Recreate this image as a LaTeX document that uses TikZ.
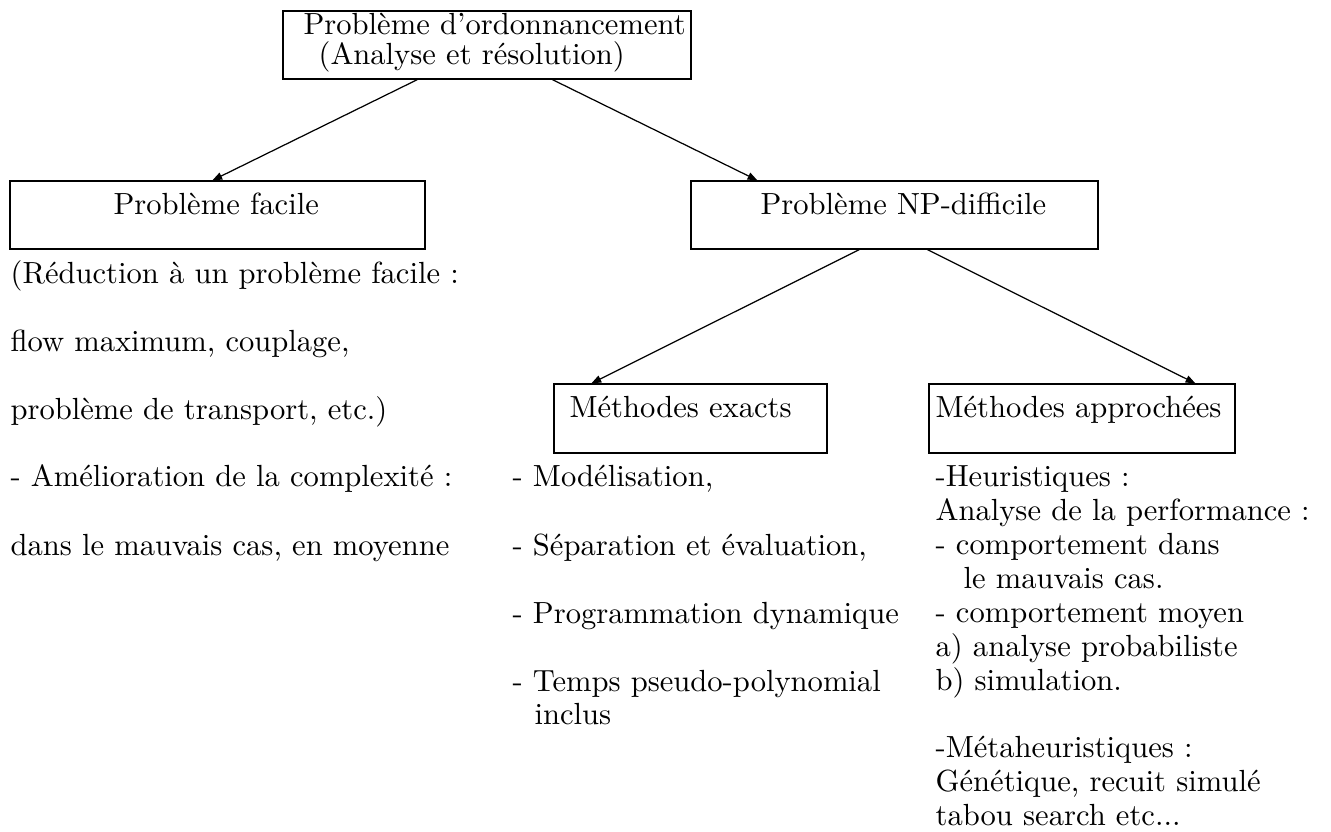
\documentclass[tikz,border=0pt]{standalone}
\usepackage{fontspec}
\usetikzlibrary{arrows.meta,fit,calc}
\tikzset{
  box/.style={draw, line width=0.4pt, inner sep=0pt},
  txt/.style={anchor=base west, inner sep=0pt, font=\fontsize{10}{12}\selectfont},
  arr/.style={line width=0.4pt, -{Triangle[length=3.2pt,width=2.4pt]}, shorten >=0pt}
}
\begin{document}
\begin{tikzpicture}[x=0.327pt, y=-0.327pt]
\useasboundingbox (0,0) rectangle (1331,832);
% boxes
\node[box, fit={(283,11) (691,79)}] (top) {};
\node[box, fit={(10,181) (425,249)}] (facile) {};
\node[box, fit={(691,181) (1098,249)}] (np) {};
\node[box, fit={(554,384) (827,453)}] (exact) {};
\node[box, fit={(929,384) (1235,453)}] (appr) {};
% box texts
\node[txt] (t1) at (303,35) {Problème d’ordonnancement};
\node[txt] (t2) at (318,65) {(Analyse et résolution)};
\node[txt] (tf) at (113,215) {Problème facile};
\node[txt] (tn) at (760,215) {Problème NP-difficile};
\node[txt] (te) at (569,418) {Méthodes exacts};
\node[txt] (ta) at (935,418) {Méthodes approchées};
% connectors
\draw[arr] ($(top.south west)+(135,0)$) -- ($(facile.north west)+(203,0)$);
\draw[arr] ($(top.south west)+(270,0)$) -- ($(np.north west)+(67,0)$);
\draw[arr] ($(np.south west)+(169,0)$) -- ($(exact.north west)+(38,0)$);
\draw[arr] ($(np.south west)+(237,0)$) -- ($(appr.north west)+(267,0)$);
% left column
\node[txt] (l1) at (10,284) {(Réduction à un problème facile :};
\node[txt] (l2) at (10,352) {flow maximum, couplage,};
\node[txt] (l3) at (10,420) {problème de transport, etc.)};
\node[txt] (l4) at (10,487) {- Amélioration de la complexité :};
\node[txt] (l5) at (10,556) {dans le mauvais cas, en moyenne};
% middle column
\node[txt] (m1) at (512,487) {- Modélisation,};
\node[txt] (m2) at (512,556) {- Séparation et évaluation,};
\node[txt] (m3) at (512,624) {- Programmation dynamique};
\node[txt] (m4) at (512,692) {- Temps pseudo-polynomial};
\node[txt] (m5) at (534,725) {inclus};
% right column
\node[txt] (r1) at (935,487) {-Heuristiques :};
\node[txt] (r2) at (935,521) {Analyse de la performance :};
\node[txt] (r3) at (935,555) {- comportement dans};
\node[txt] (r4) at (963,589) {le mauvais cas.};
\node[txt] (r5) at (935,623) {- comportement moyen};
\node[txt] (r6) at (935,657) {a) analyse probabiliste};
\node[txt] (r7) at (935,691) {b) simulation.};
\node[txt] (r8) at (935,758) {-Métaheuristiques :};
\node[txt] (r9) at (935,792) {Génétique, recuit simulé};
\node[txt] (r10) at (935,826) {tabou search etc...};
\end{tikzpicture}
\end{document}
